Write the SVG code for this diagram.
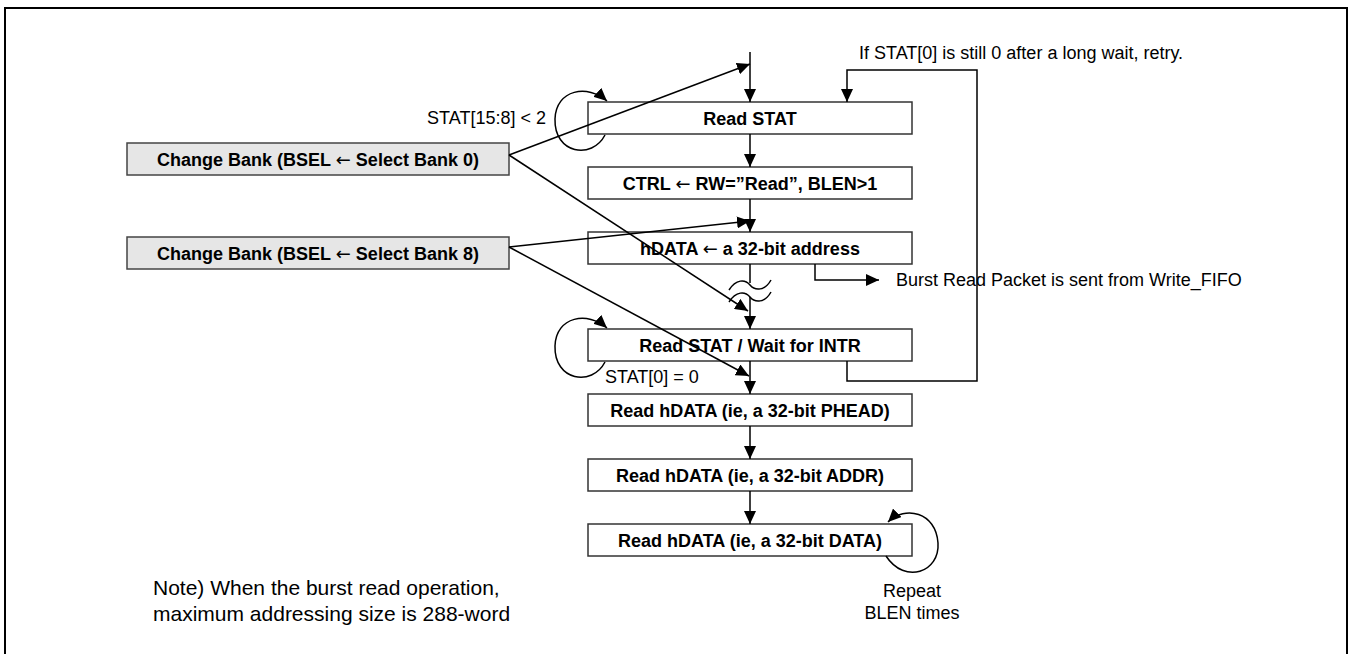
<svg xmlns="http://www.w3.org/2000/svg" width="1354" height="654" viewBox="0 0 1354 654">
<defs>
<marker id="ah" markerUnits="userSpaceOnUse" markerWidth="14" markerHeight="12" refX="13" refY="6" orient="auto">
<path d="M0,0 L13,6 L0,12 z" fill="#000"/>
</marker>
<style>
.box{fill:#fff;stroke:#333;stroke-width:1.5}
.bank{fill:#e6e6e6;stroke:#444;stroke-width:1.5}
.bt{font-family:"Liberation Sans",Arial,sans-serif;font-size:18px;font-weight:bold;text-anchor:middle;fill:#000}
.t{font-family:"Liberation Sans",Arial,sans-serif;font-size:18px;fill:#000}
.arw{font-family:"DejaVu Sans",sans-serif;font-weight:normal}
.ln{fill:none;stroke:#000;stroke-width:1.5}
.ar{fill:none;stroke:#000;stroke-width:1.5;marker-end:url(#ah)}
</style>
</defs>
<rect x="5" y="8" width="1342" height="680" fill="none" stroke="#000" stroke-width="2"/>

<g id="node-read-stat"><rect class="box" x="588" y="102" width="324" height="32"/><text class="bt" x="750" y="124.5">Read STAT</text></g>
<g id="node-ctrl"><rect class="box" x="588" y="167" width="324" height="32"/><text class="bt" x="750" y="189.5">CTRL <tspan class="arw">←</tspan> RW=”Read”, BLEN&gt;1</text></g>
<g id="node-hdata"><rect class="box" x="588" y="232" width="324" height="32"/><text class="bt" x="750" y="254.5">hDATA <tspan class="arw">←</tspan> a 32-bit address</text></g>
<g id="node-wait"><rect class="box" x="588" y="329" width="324" height="32"/><text class="bt" x="750" y="351.5">Read STAT / Wait for INTR</text></g>
<g id="node-phead"><rect class="box" x="588" y="394" width="324" height="32"/><text class="bt" x="750" y="416.5">Read hDATA (ie, a 32-bit PHEAD)</text></g>
<g id="node-addr"><rect class="box" x="588" y="459" width="324" height="32"/><text class="bt" x="750" y="481.5">Read hDATA (ie, a 32-bit ADDR)</text></g>
<g id="node-data"><rect class="box" x="588" y="524" width="324" height="32"/><text class="bt" x="750" y="546.5">Read hDATA (ie, a 32-bit DATA)</text></g>
<g id="node-bank0"><rect class="bank" x="127" y="143" width="382" height="32"/><text class="bt" x="318" y="165.5">Change Bank (BSEL <tspan class="arw">←</tspan> Select Bank 0)</text></g>
<g id="node-bank8"><rect class="bank" x="127" y="237" width="382" height="32"/><text class="bt" x="318" y="259.5">Change Bank (BSEL <tspan class="arw">←</tspan> Select Bank 8)</text></g>

<g id="connectors">
<path class="ar" d="M750,52 V102"/>
<path class="ar" d="M750,134 V167"/>
<path class="ar" d="M750,199 V232"/>
<path class="ln" d="M750,264 V283"/>
<path class="ar" d="M750,297 V329"/>
<path class="ln" d="M729,290 C736,279 745,279 750,285 C755,291 765,291 771,280"/>
<path class="ln" d="M729,302 C736,291 745,291 750,297 C755,303 765,303 771,292"/>
<path class="ar" d="M750,361 V394"/>
<path class="ar" d="M750,426 V459"/>
<path class="ar" d="M750,491 V524"/>
<path class="ar" d="M847,361 V381 H977 V70 H847 V102"/>
<path class="ar" d="M815,264 V280 H879"/>
<path class="ar" d="M509,155 L750,64"/>
<path class="ar" d="M509,155 L748,311"/>
<path class="ar" d="M509,247 L750,221"/>
<path class="ar" d="M509,247 L749,376"/>
<path class="ar" d="M605,135 C592,160 554,154 555,119 C556,89 588,84 607,101"/>
<path class="ar" d="M605,362 C592,387 554,381 555,346 C556,316 588,311 607,328"/>
<path class="ar" d="M886,556 C905,585 940,572 938,543 C936,512 905,505 888,522"/>
</g>

<g id="labels">
<text class="t" x="859" y="59">If STAT[0] is still 0 after a long wait, retry.</text>
<text class="t" x="546" y="124" text-anchor="end">STAT[15:8] &lt; 2</text>
<text class="t" x="896" y="286">Burst Read Packet is sent from Write_FIFO</text>
<text class="t" x="605" y="383">STAT[0] = 0</text>
<text class="t" x="912" y="597" text-anchor="middle">Repeat</text>
<text class="t" x="912" y="619" text-anchor="middle">BLEN times</text>
<text class="t" x="153" y="595" style="font-size:21px">Note) When the burst read operation,</text>
<text class="t" x="153" y="621" style="font-size:21px">maximum addressing size is 288-word</text>
</g>
</svg>
